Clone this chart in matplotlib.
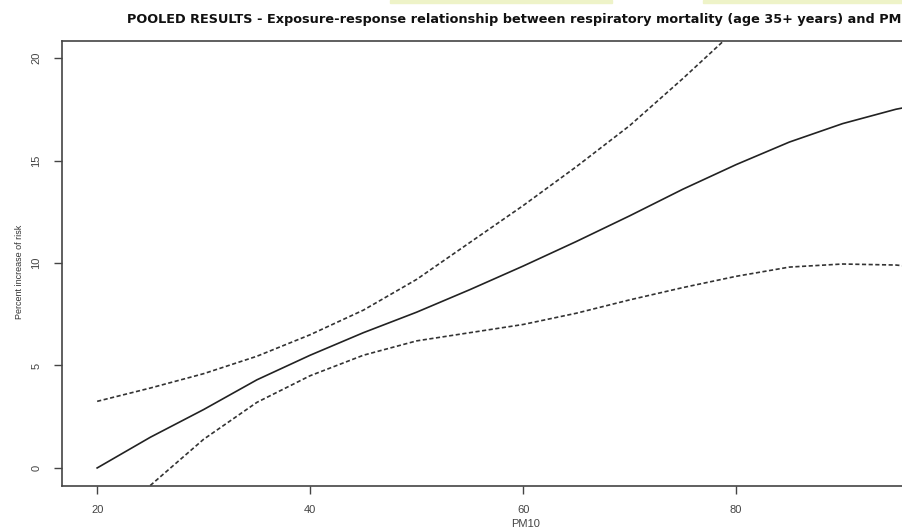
import matplotlib
matplotlib.use("Agg")
import matplotlib.pyplot as plt
from matplotlib.patches import Rectangle

# PM10 values and pooled estimate with confidence band
pm10 = [20, 25, 30, 35, 40, 45, 50, 55, 60, 65, 70, 75, 80, 85, 90, 95, 96]
estimate = [0, 1.5, 2.85, 4.3, 5.5, 6.6, 7.6, 8.7, 9.85, 11.05, 12.3, 13.6, 14.8, 15.9, 16.8, 17.5, 17.6]
upper = [3.25, 3.9, 4.6, 5.45, 6.5, 7.7, 9.2, 11.0, 12.8, 14.7, 16.7, 19.0, 21.4, 24.0, 26.7, 29.5, 30.0]
lower = [-3.0, -0.85, 1.4, 3.2, 4.5, 5.5, 6.2, 6.6, 7.0, 7.55, 8.2, 8.8, 9.35, 9.8, 9.95, 9.9, 9.85]

xticks = [20, 40, 60, 80]
yticks = [0, 5, 10, 15, 20]

title = ("POOLED RESULTS - Exposure-response relationship between "
         "respiratory mortality (age 35+ years) and PM")

plt.rcParams['font.family'] = ['Liberation Sans', 'DejaVu Sans']

fig = plt.figure(figsize=(9.03, 5.27), dpi=100)
W, H = 903, 527
# axes box runs off the right edge like the cropped original
ax = fig.add_axes([62 / W, 1 - 486 / H, (1000 - 62) / W, (486 - 41) / H])

ax.plot(pm10, estimate, color='#222222', linewidth=1.2)
ax.plot(pm10, upper, color='#333333', linewidth=1.2, linestyle=(0, (2.5, 1.5)))
ax.plot(pm10, lower, color='#333333', linewidth=1.2, linestyle=(0, (2.5, 1.5)))

ax.set_xlim(16.7, 16.7 + (1000 - 62) / 10.65)
ax.set_ylim(-0.88, 20.83)

ax.set_xticks(xticks)
ax.set_yticks(yticks)
ax.set_xticklabels([str(v) for v in xticks], fontsize=8, color='#444444')
ax.set_yticklabels([str(v) for v in yticks], fontsize=8, color='#444444',
                   rotation=90, va='center')
ax.tick_params(axis='x', length=6, width=1, color='#444444', pad=8)
ax.tick_params(axis='y', length=6, width=1, color='#444444', pad=9)

for side in ['left', 'bottom', 'top']:
    ax.spines[side].set_color('#444444')
    ax.spines[side].set_linewidth(1.2)
ax.spines['right'].set_visible(False)

fig.text(20 / W, 1 - 272 / H, 'Percent increase of risk', rotation=90,
         fontsize=6.5, color='#333333', ha='center', va='center')
# x label sits partly below the bottom edge, as in the cropped original
fig.text(526 / W, 1 - 519 / H, 'PM10', fontsize=8, color='#444444',
         ha='center', va='top')

fig.text(127 / W, 1 - 20 / H, title, fontsize=9.3, fontweight='bold',
         family='DejaVu Sans', color='#111111', ha='left', va='center')

# pale bars along the top edge of the scan
fig.patches.append(Rectangle((390 / W, 1 - 3 / H), 222 / W, 3 / H,
                             transform=fig.transFigure, color='#eef3c8', zorder=0))
fig.patches.append(Rectangle((703 / W, 1 - 3 / H), 200 / W, 3 / H,
                             transform=fig.transFigure, color='#eef3c8', zorder=0))

fig.savefig('out.png', dpi=100)
